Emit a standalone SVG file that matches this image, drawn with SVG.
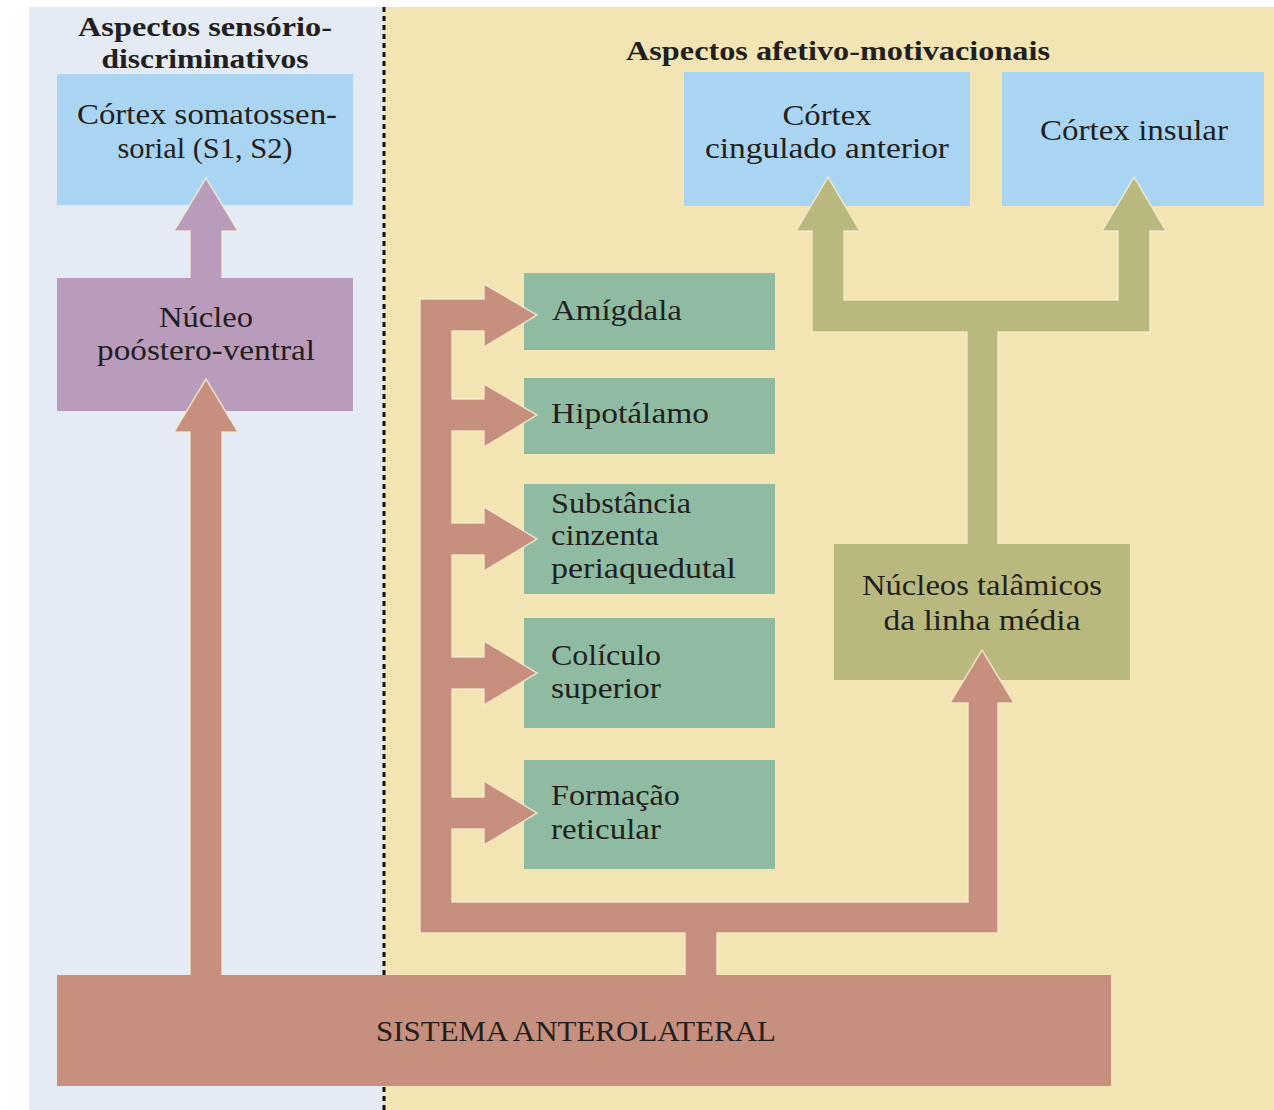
<svg xmlns="http://www.w3.org/2000/svg" width="1274" height="1110" viewBox="0 0 1274 1110">
<style>
  .t { font-family: "Liberation Serif", "Times New Roman", serif; font-size: 29px; fill: #231f20; }
  .h { font-family: "Liberation Serif", "Times New Roman", serif; font-size: 28px; font-weight: bold; fill: #231f20; }
  .c { text-anchor: middle; }
  .blue { fill: #A9D4F2; }
  .green { fill: #8FBBA3; }
  .purple { fill: #B99BBB; }
  .olive { fill: #B9B97F; }
  .salmon { fill: #C78F7E; }
  .arrow { stroke: #F7EDCF; stroke-width: 1.5; stroke-opacity: 0.8; stroke-linejoin: miter; }
</style>
<rect x="0" y="0" width="1274" height="1110" fill="#ffffff"/>
<g id="panels">
  <rect x="29" y="7" width="355" height="1103" fill="#E4EBF4"/>
  <rect x="384" y="7" width="890" height="1103" fill="#F3E5B3"/>
  <line x1="384" y1="7" x2="384" y2="1110" stroke="#111" stroke-width="3" stroke-dasharray="5,4"/>
</g>
<g id="headers">
  <text class="h c" x="205" y="36" textLength="254" lengthAdjust="spacingAndGlyphs">Aspectos sensório-</text>
  <text class="h c" x="205" y="68" textLength="207" lengthAdjust="spacingAndGlyphs">discriminativos</text>
  <text class="h c" x="838" y="60" textLength="424" lengthAdjust="spacingAndGlyphs">Aspectos afetivo-motivacionais</text>
</g>
<g id="node-s1s2">
  <rect class="blue" x="57" y="74" width="296" height="131"/>
  <text class="t c" x="207" y="124" textLength="260" lengthAdjust="spacingAndGlyphs">Córtex somatossen-</text>
  <text class="t c" x="205" y="158" textLength="175" lengthAdjust="spacingAndGlyphs">sorial (S1, S2)</text>
</g>
<g id="node-npv">
  <rect class="purple" x="57" y="278" width="296" height="133"/>
  <text class="t c" x="206" y="327" textLength="94" lengthAdjust="spacingAndGlyphs">Núcleo</text>
  <text class="t c" x="206" y="360" textLength="218" lengthAdjust="spacingAndGlyphs">poóstero-ventral</text>
</g>
<g id="node-cingulado">
  <rect class="blue" x="684" y="72" width="286" height="134"/>
  <text class="t c" x="827" y="125" textLength="89" lengthAdjust="spacingAndGlyphs">Córtex</text>
  <text class="t c" x="827" y="158" textLength="244" lengthAdjust="spacingAndGlyphs">cingulado anterior</text>
</g>
<g id="node-insular">
  <rect class="blue" x="1002" y="72" width="262" height="134"/>
  <text class="t c" x="1134" y="140" textLength="188" lengthAdjust="spacingAndGlyphs">Córtex insular</text>
</g>
<g id="node-amigdala">
  <rect class="green" x="524" y="273" width="251" height="77"/>
  <text class="t" x="552" y="320" textLength="130" lengthAdjust="spacingAndGlyphs">Amígdala</text>
</g>
<g id="node-hipotalamo">
  <rect class="green" x="524" y="378" width="251" height="76"/>
  <text class="t" x="551" y="423" textLength="158" lengthAdjust="spacingAndGlyphs">Hipotálamo</text>
</g>
<g id="node-substancia">
  <rect class="green" x="524" y="484" width="251" height="110"/>
  <text class="t" x="551" y="513" textLength="140" lengthAdjust="spacingAndGlyphs">Substância</text>
  <text class="t" x="551" y="545" textLength="108" lengthAdjust="spacingAndGlyphs">cinzenta</text>
  <text class="t" x="551" y="578" textLength="185" lengthAdjust="spacingAndGlyphs">periaquedutal</text>
</g>
<g id="node-coliculo">
  <rect class="green" x="524" y="618" width="251" height="110"/>
  <text class="t" x="551" y="665" textLength="110" lengthAdjust="spacingAndGlyphs">Colículo</text>
  <text class="t" x="551" y="698" textLength="110" lengthAdjust="spacingAndGlyphs">superior</text>
</g>
<g id="node-formacao">
  <rect class="green" x="524" y="760" width="251" height="109"/>
  <text class="t" x="551" y="805" textLength="129" lengthAdjust="spacingAndGlyphs">Formação</text>
  <text class="t" x="551" y="839" textLength="110" lengthAdjust="spacingAndGlyphs">reticular</text>
</g>
<g id="node-talamicos">
  <rect class="olive" x="834" y="544" width="296" height="136"/>
  <text class="t c" x="982" y="595" textLength="240" lengthAdjust="spacingAndGlyphs">Núcleos talâmicos</text>
  <text class="t c" x="982" y="630" textLength="197" lengthAdjust="spacingAndGlyphs">da linha média</text>
</g>
<g id="connectors">
  <path class="purple arrow" d="M190,278 V231 H174 L206,178 L238,231 H222 V278"/>
  <path class="salmon arrow" d="M190,976 V432 H174 L206,379 L238,432 H222 V976"/>
  <path class="olive arrow" d="M967,544 V332 H812 V231 H796 L828,177 L860,231 H844 V300 H1118 V231 H1102 L1134,177 L1166,231 H1150 V332 H998 V544"/>
  <path class="salmon arrow" d="M685,976 V933 H420 V299 H484 V284 L537,315 L484,347 V331 H452 V399 H484 V384 L537,415 L484,447 V431 H452 V523 H484 V507 L537,539 L484,571 V555 H452 V657 H484 V641 L537,673 L484,705 V689 H452 V797 H484 V781 L537,813 L484,845 V829 H452 V902 H968 V703 H950 L982,650 L1014,703 H998 V933 H717 V976"/>
</g>
<g id="node-sistema">
  <rect class="salmon" x="57" y="975" width="1054" height="111"/>
  <text class="t" x="376" y="1041" textLength="400" lengthAdjust="spacingAndGlyphs">SISTEMA ANTEROLATERAL</text>
</g>
</svg>
